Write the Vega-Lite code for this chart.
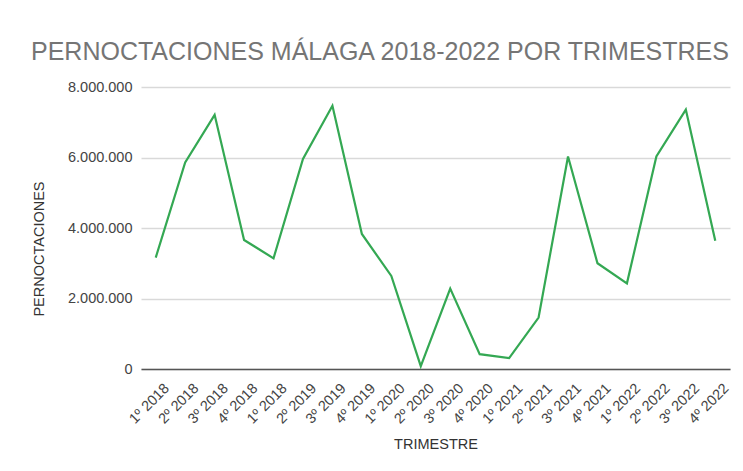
{
  "$schema": "https://vega.github.io/schema/vega-lite/v6.json",
  "width": 589,
  "height": 282,
  "autosize": "none",
  "padding": {"left": 141, "top": 87, "right": 13, "bottom": 102},
  "background": "white",
  "config": {
    "locale": {"number": {"decimal": ",", "thousands": ".", "grouping": [3], "currency": ["", " €"]}},
    "view": {"stroke": null},
    "font": "Liberation Sans"
  },
  "title": {
    "text": "PERNOCTACIONES MÁLAGA 2018-2022 POR TRIMESTRES",
    "anchor": "start",
    "frame": "group",
    "dx": -110,
    "dy": 26,
    "offset": 20,
    "baseline": "alphabetic",
    "fontSize": 25,
    "fontWeight": "normal",
    "color": "#757575",
    "font": "Liberation Sans"
  },
  "data": {
    "values": [
      {"trimestre": "1º 2018", "pernoctaciones": 3160000},
      {"trimestre": "2º 2018", "pernoctaciones": 5860000},
      {"trimestre": "3º 2018", "pernoctaciones": 7210000},
      {"trimestre": "4º 2018", "pernoctaciones": 3660000},
      {"trimestre": "1º 2018*", "pernoctaciones": 3140000},
      {"trimestre": "2º 2019", "pernoctaciones": 5960000},
      {"trimestre": "3º 2019", "pernoctaciones": 7470000},
      {"trimestre": "4º 2019", "pernoctaciones": 3830000},
      {"trimestre": "1º 2020", "pernoctaciones": 2640000},
      {"trimestre": "2º 2020", "pernoctaciones": 80000},
      {"trimestre": "3º 2020", "pernoctaciones": 2280000},
      {"trimestre": "4º 2020", "pernoctaciones": 420000},
      {"trimestre": "1º 2021", "pernoctaciones": 310000},
      {"trimestre": "2º 2021", "pernoctaciones": 1460000},
      {"trimestre": "3º 2021", "pernoctaciones": 6030000},
      {"trimestre": "4º 2021", "pernoctaciones": 3000000},
      {"trimestre": "1º 2022", "pernoctaciones": 2430000},
      {"trimestre": "2º 2022", "pernoctaciones": 6030000},
      {"trimestre": "3º 2022", "pernoctaciones": 7360000},
      {"trimestre": "4º 2022", "pernoctaciones": 3640000}
    ]
  },
  "mark": {"type": "line", "color": "#34a853", "strokeWidth": 2.2, "strokeJoin": "miter"},
  "encoding": {
    "x": {
      "field": "trimestre",
      "type": "ordinal",
      "sort": null,
      "scale": {"type": "point", "padding": 0.5},
      "axis": {
        "title": "TRIMESTRE",
        "labelExpr": "replace(datum.label, '*', '')",
        "labelAngle": -45,
        "labelAlign": "right",
        "labelBaseline": "top",
        "labelOffset": 6,
        "labelFontSize": 14.5,
        "labelColor": "#444444",
        "labelFont": "Liberation Sans",
        "labelPadding": 12,
        "ticks": false,
        "domain": true,
        "domainColor": "#555555",
        "domainWidth": 1.5,
        "grid": false,
        "titleFontSize": 14.5,
        "titleFontWeight": "normal",
        "titleColor": "#333333",
        "titleFont": "Liberation Sans",
        "titleY": 79.5,
        "titleBaseline": "alphabetic"
      }
    },
    "y": {
      "field": "pernoctaciones",
      "type": "quantitative",
      "scale": {"domain": [0, 8000000], "nice": false},
      "axis": {
        "title": "PERNOCTACIONES",
        "values": [0, 2000000, 4000000, 6000000, 8000000],
        "format": ",d",
        "labelFontSize": 14.5,
        "labelColor": "#444444",
        "labelFont": "Liberation Sans",
        "labelPadding": 9,
        "ticks": false,
        "domain": false,
        "gridColor": "#d9d9d9",
        "gridWidth": 1.3,
        "titleFontSize": 14.5,
        "titleFontWeight": "normal",
        "titleColor": "#333333",
        "titleFont": "Liberation Sans",
        "titleX": -98,
        "titleY": 161.5,
        "titleBaseline": "alphabetic"
      }
    }
  }
}
